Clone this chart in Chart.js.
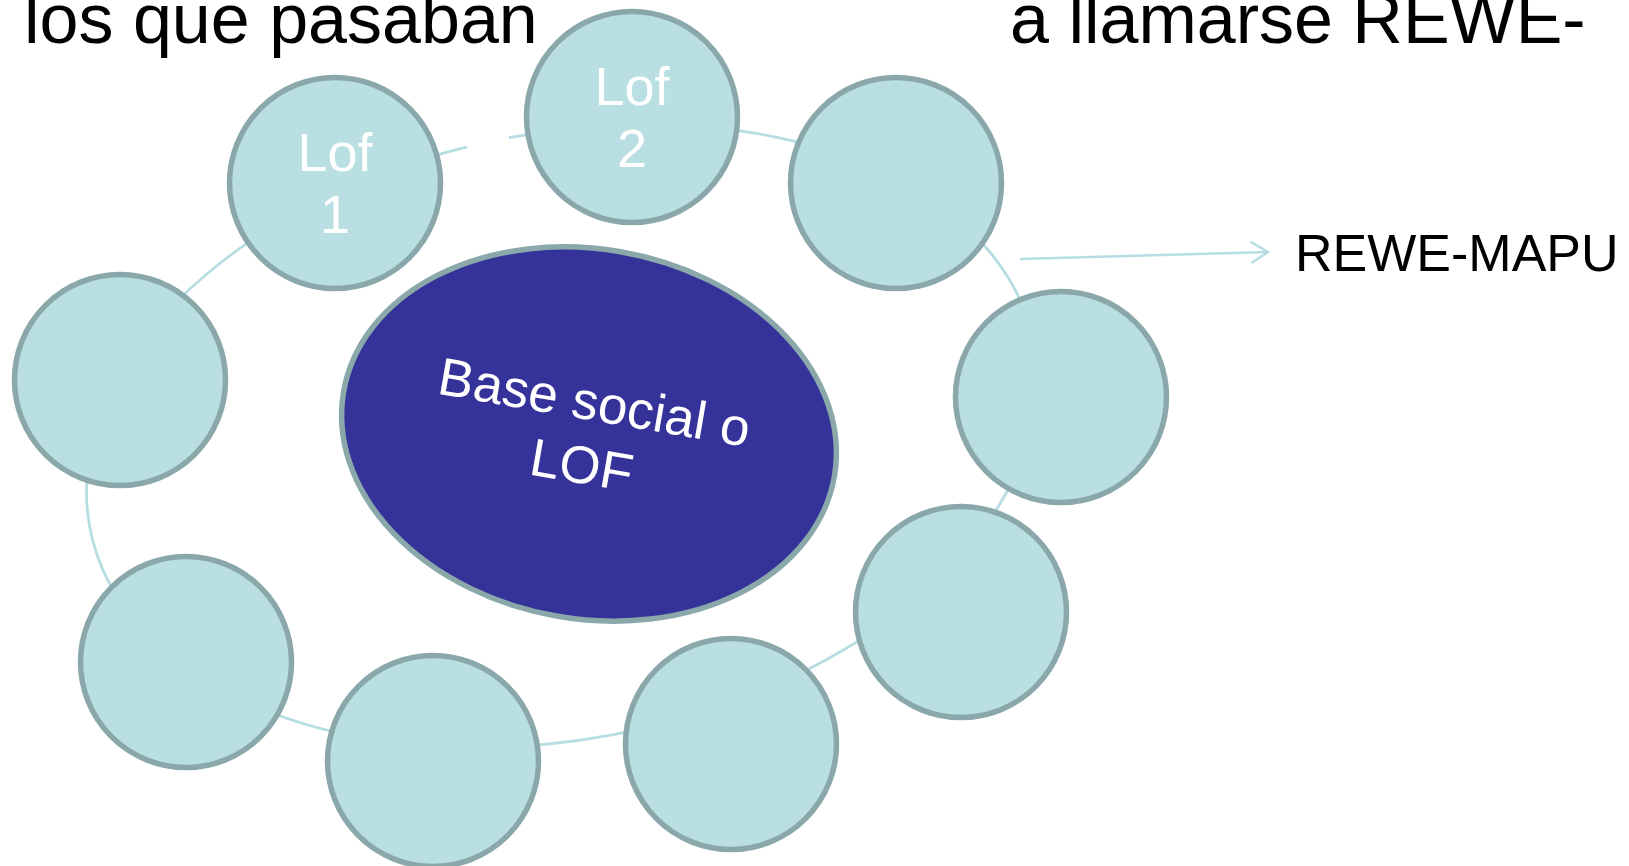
<!DOCTYPE html>
<html>
<head>
<meta charset="utf-8">
<script src="https://cdn.jsdelivr.net/npm/chart.js@4"></script>
<style>
  html, body { margin: 0; padding: 0; background: #fff; }
  #wrap { width: 1629px; height: 866px; position: relative; }
</style>
</head>
<body>
<div id="wrap"><canvas id="chart"></canvas></div>
<script>
// cycle nodes, in diagram units (x 0..1629, y 0..866)
const nodeLabels = ['Lof\n1', 'Lof\n2', '', '', '', '', '', '', ''];
const nodeX = [335, 632, 896, 1061, 961, 731, 433, 186, 120];
const nodeY = [183, 117, 183, 397, 612, 744, 761, 662, 380];

// central "base social" ellipse
const centerLabel = ['Base social o', 'LOF'];
const centerX = 589;
const centerY = 434;

// heading fragments and the arrow out to REWE-MAPU
const headLeft = 'los que pasaban';
const headRight = 'a llamarse REWE-';
const arrowLabel = 'REWE-MAPU';
const arrowX = [1020, 1268];
const arrowY = [259, 252];

const FONT = '"Liberation Sans", Arial, sans-serif';
const NODE_FILL = '#badfe3';
const NODE_EDGE = '#8aa8aa';
const RING = '#b5dde2';
const deg = Math.PI / 180;

// light connector ring behind the nodes
const ringPlugin = {
    id: 'ring',
    beforeDatasetsDraw(chart) {
        const { ctx, scales: { x, y } } = chart;
        const cx = x.getPixelForValue(562), cy = y.getPixelForValue(436);
        const rx = x.getPixelForValue(562 + 481) - cx;
        const ry = y.getPixelForValue(436 + 303) - cy;
        ctx.save();
        ctx.strokeStyle = RING;
        ctx.lineWidth = 2.8;
        ctx.beginPath();
        ctx.ellipse(cx, cy, rx, ry, -11.2 * deg, -89.3 * deg, 265.6 * deg);
        ctx.stroke();
        ctx.restore();
    }
};

// big blue ellipse, labels, arrow head, headings
const decoPlugin = {
    id: 'deco',
    afterDatasetsDraw(chart) {
        const { ctx, scales: { x, y } } = chart;
        const cx = x.getPixelForValue(centerX), cy = y.getPixelForValue(centerY);

        ctx.save();
        ctx.beginPath();
        ctx.ellipse(cx, cy, 249, 185, 9.8 * deg, 0, Math.PI * 2);
        ctx.fillStyle = '#353399';
        ctx.fill();
        ctx.lineWidth = 5.5;
        ctx.strokeStyle = NODE_EDGE;
        ctx.stroke();

        // rotated centre text
        ctx.translate(cx, cy);
        ctx.rotate(9.8 * deg);
        ctx.fillStyle = '#ffffff';
        ctx.font = '53px ' + FONT;
        ctx.textAlign = 'center';
        ctx.textBaseline = 'alphabetic';
        ctx.fillText(centerLabel[0], 0, -14);
        ctx.fillText(centerLabel[1], -2, 50);
        ctx.restore();

        // node labels
        const meta = chart.getDatasetMeta(0);
        ctx.save();
        ctx.fillStyle = '#ffffff';
        ctx.font = '54px ' + FONT;
        ctx.textAlign = 'center';
        meta.data.forEach((pt, i) => {
            const lines = nodeLabels[i].split('\n');
            if (!lines[0]) return;
            ctx.fillText(lines[0], pt.x, pt.y - 12);
            ctx.fillText(lines[1], pt.x, pt.y + 50);
        });
        ctx.restore();

        // open arrow head at the end of the arrow line
        const am = chart.getDatasetMeta(1).data;
        const p0 = am[0], p1 = am[1];
        const ang = Math.atan2(p1.y - p0.y, p1.x - p0.x);
        ctx.save();
        ctx.strokeStyle = RING;
        ctx.lineWidth = 2.5;
        ctx.beginPath();
        ctx.moveTo(p1.x - 20 * Math.cos(ang - 32 * deg), p1.y - 20 * Math.sin(ang - 32 * deg));
        ctx.lineTo(p1.x, p1.y);
        ctx.lineTo(p1.x - 20 * Math.cos(ang + 32 * deg), p1.y - 20 * Math.sin(ang + 32 * deg));
        ctx.stroke();

        ctx.fillStyle = '#000000';
        ctx.font = '52px ' + FONT;
        ctx.textAlign = 'left';
        ctx.textBaseline = 'alphabetic';
        ctx.fillText(arrowLabel, p1.x + 27, p1.y + 19);

        ctx.font = '70px ' + FONT;
        ctx.fillText(headLeft, x.getPixelForValue(24), y.getPixelForValue(43));
        ctx.fillText(headRight, x.getPixelForValue(1010), y.getPixelForValue(43));
        ctx.restore();
    }
};

window.onload = () => {
    const ctx = document.getElementById('chart');

    new Chart(ctx, {
        type: 'bubble',
        data: {
            datasets: [
                {
                    label: 'Lof',
                    data: nodeX.map((v, i) => ({ x: v, y: nodeY[i], r: 105.5 })),
                    backgroundColor: NODE_FILL,
                    borderColor: NODE_EDGE,
                    borderWidth: 5.5,
                    clip: false
                },
                {
                    type: 'line',
                    label: 'arrow',
                    data: arrowX.map((v, i) => ({ x: v, y: arrowY[i] })),
                    borderColor: RING,
                    borderWidth: 2.5,
                    pointRadius: 0,
                    fill: false
                }
            ]
        },
        options: {
            responsive: true,
            maintainAspectRatio: false,
            animation: false,
            events: [],
            layout: { padding: 0, autoPadding: false },
            scales: {
                x: { type: 'linear', min: 0, max: 1629, display: false },
                y: { type: 'linear', min: 0, max: 866, reverse: true, display: false }
            },
            plugins: {
                legend: { display: false },
                tooltip: { enabled: false }
            }
        },
        plugins: [ringPlugin, decoPlugin]
    });
}
</script>
</body>
</html>
